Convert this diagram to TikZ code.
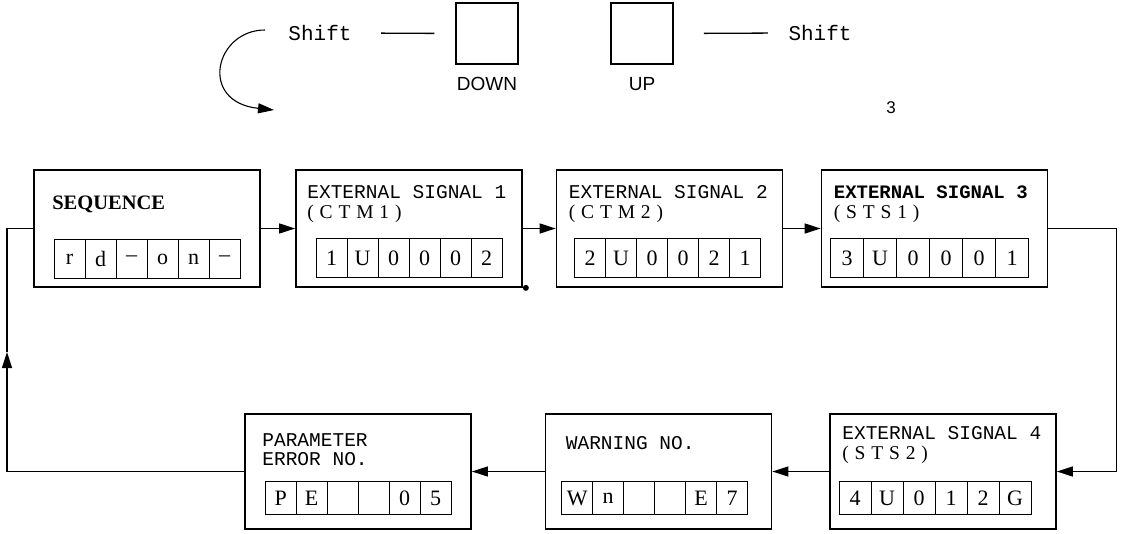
\documentclass[tikz,border=0pt]{standalone}
\usepackage{fontspec}
\setmainfont{Liberation Serif}
\setsansfont{Liberation Sans}
\setmonofont{Liberation Mono}
\newfontfamily\spacedserif[LetterSpace=30]{Liberation Serif}
\usetikzlibrary{arrows.meta, positioning, calc}
\tikzset{
  >={Triangle[length=16pt,width=10pt]},
  % display panels
  dispbox/.style={draw, line width=1.7pt, minimum width=226pt, minimum height=117pt, inner sep=0pt},
  dispbox low/.style={dispbox, minimum height=115pt},
  % digit cells
  cell/.style={draw, line width=1.2pt, minimum width=31pt, minimum height=39pt, inner sep=0pt,
    font=\fontsize{22}{22}\selectfont},
  cell low/.style={cell, minimum height=33pt},
  % texts in the panels
  boxtitle/.style={anchor=base west, inner sep=0pt, font=\fontsize{19.5}{21}\selectfont\ttfamily},
  boxsub/.style={anchor=base west, inner sep=0pt, font=\fontsize{19.5}{20}\selectfont\spacedserif},
  % keys
  key/.style={draw, line width=1.5pt, minimum width=62pt, minimum height=61pt, inner sep=0pt},
  keylabel/.style={font=\fontsize{19}{20}\selectfont\sffamily},
  shiftlabel/.style={font=\fontsize{21}{21}\selectfont\ttfamily},
  % connections
  flow/.style={->, line width=1.3pt},
  link/.style={line width=1.3pt},
}
\begin{document}
\begin{tikzpicture}[x=1pt, y=-1pt]
  \useasboundingbox (0,0) rectangle (1123,533);
  % Keys
  \node[key] (down) at (487,33.5) {};
  \node[key] (up) at (642,33.5) {};
  \node[keylabel, below=9pt of down] (downl) {DOWN};
  \node[keylabel, below=9pt of up] (upl) {UP};
  \node[shiftlabel] (shl) at (320,33) {Shift};
  \node[shiftlabel] (shr) at (820,33) {Shift};
  \draw[link, shorten <=26pt, shorten >=21pt] (shl.east) -- (down.west);
  \draw[link, shorten <=30pt, shorten >=17pt] (up.east) -- (shr.west);
  \coordinate (cvs) at (265,30);
  \coordinate (cve) at (274,110);
  \draw[flow, line width=1.1pt] (cvs) .. controls (215,30) and (198,102) .. (cve);
  \node[font=\fontsize{17}{17}\selectfont\sffamily] (pg) at (891,108) {3};
  % Top row
  \node[dispbox] (seq) at (147,228.5) {};
  \node[dispbox] (ctm1) at (409,228.5) {};
  \node[dispbox] (ctm2) at (669.5,228.5) {};
  \node[dispbox] (sts1) at (934.5,228.5) {};
  \node[anchor=base west, inner sep=0pt, font=\fontsize{20.5}{21}\selectfont\bfseries] (seqt)
    at ($(seq.north west)+(19,40)$) {SEQUENCE};
  \node[boxtitle] (ctm1t) at ($(ctm1.north west)+(12,29)$) {EXTERNAL SIGNAL 1};
  \node[boxsub] (ctm1s) at ($(ctm1.north west)+(12,49)$) {(CTM1)};
  \node[boxtitle] (ctm2t) at ($(ctm2.north west)+(13,29)$) {EXTERNAL SIGNAL 2};
  \node[boxsub] (ctm2s) at ($(ctm2.north west)+(13,49)$) {(CTM2)};
  \node[boxtitle, font=\fontsize{19}{21}\selectfont\ttfamily\bfseries] (sts1t)
    at ($(sts1.north west)+(13,29)$) {EXTERNAL SIGNAL 3};
  \node[boxsub] (sts1s) at ($(sts1.north west)+(13,49)$) {(STS1)};
  \foreach \c [count=\i] in {r,d,\textendash,o,n,\textendash}
    \node[cell] (seq-\i) at ($(seq.north west)+(5.5+31*\i,90)$) {\c};
  \foreach \c [count=\i] in {1,U,0,0,0,2}
    \node[cell] (ctm1-\i) at ($(ctm1.north west)+(5.5+31*\i,89)$) {\c};
  \foreach \c [count=\i] in {2,U,0,0,2,1}
    \node[cell] (ctm2-\i) at ($(ctm2.north west)+(3.5+31*\i,89)$) {\c};
  \foreach \c [count=\i] in {3,U,0,0,0,1}
    \node[cell, minimum width=33pt] (sts1-\i) at ($(sts1.north west)+(-6.5+33*\i,89)$) {\c};
  \node[circle, fill, inner sep=0pt, minimum size=6pt] (dot) at ($(ctm1.south east)+(3,0)$) {};
  % Bottom row
  \node[dispbox low] (sts2) at (943,471.5) {};
  \node[dispbox low] (warn) at (658.5,471.5) {};
  \node[dispbox low] (perr) at (358,471.5) {};
  \node[boxtitle] (sts2t) at ($(sts2.north west)+(13,26)$) {EXTERNAL SIGNAL 4};
  \node[boxsub] (sts2s) at ($(sts2.north west)+(13,46)$) {(STS2)};
  \node[boxtitle] (warnt) at ($(warn.north west)+(21,36)$) {WARNING NO.};
  \node[boxtitle] (perrt) at ($(perr.north west)+(18,33)$) {PARAMETER};
  \node[boxtitle] (perrs) at ($(perr.north west)+(18,52)$) {ERROR NO.};
  \foreach \c [count=\i] in {4,U,0,1,2,G}
    \node[cell low, minimum width=32pt] (sts2-\i) at ($(sts2.north west)+(-6+32*\i,85)$) {\c};
  \foreach \c [count=\i] in {W,n,{},{},E,7}
    \node[cell low] (warn-\i) at ($(warn.north west)+(1.5+31*\i,85)$) {\c};
  \foreach \c [count=\i] in {P,E,{},{},0,5}
    \node[cell low] (perr-\i) at ($(perr.north west)+(5.5+31*\i,85)$) {\c};
  % Connections
  \draw[flow] (seq.east) -- (ctm1.west);
  \draw[flow] (ctm1.east) -- (ctm2.west);
  \draw[flow] (ctm2.east) -- (sts1.west);
  \draw[flow] (sts1.east) -- ++(68,0) |- (sts2.east);
  \draw[flow] (sts2.west) -- (warn.east);
  \draw[flow] (warn.west) -- (perr.east);
  % Back to the start
  \coordinate (retb) at (7,471.5);
  \coordinate (retm) at (7,352);
  \coordinate (rett) at (7,228.5);
  \draw[flow] (perr.west) -- (retb) -- (retm);
  \draw[link] (retm) -- (rett) -- (seq.west);
\end{tikzpicture}
\end{document}
